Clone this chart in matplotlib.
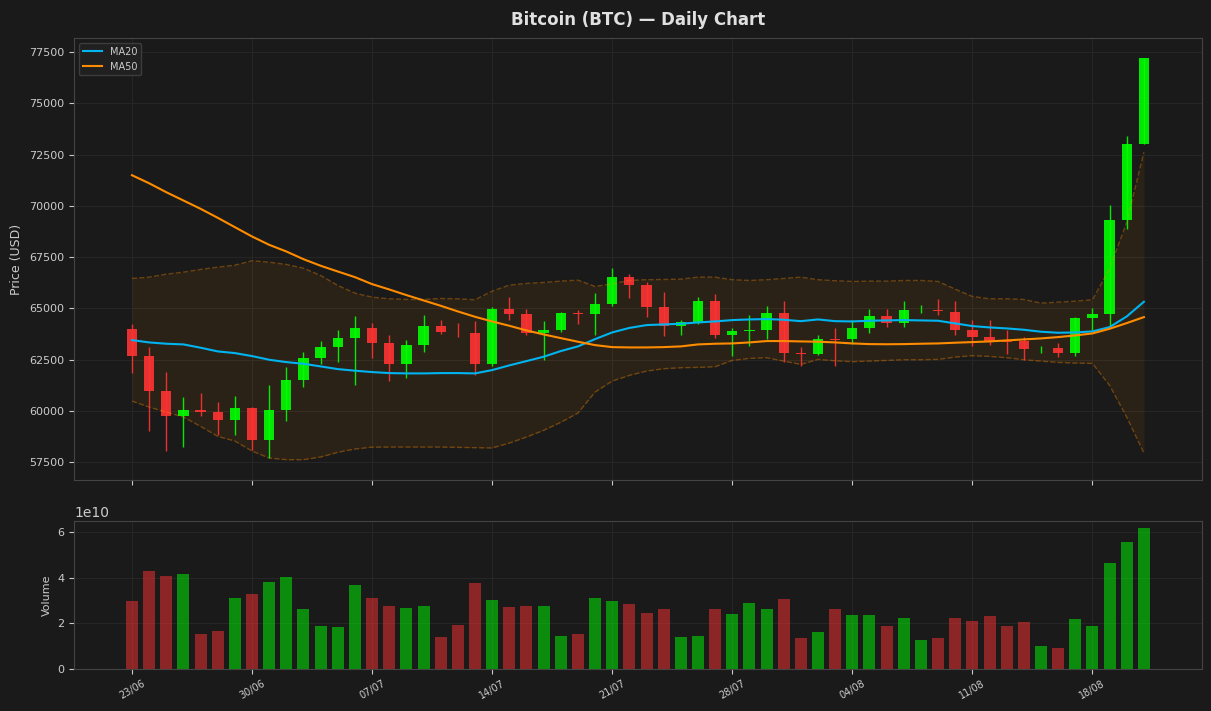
import matplotlib
matplotlib.use("Agg")
import matplotlib.pyplot as plt
import numpy as np

# daily candles, 23/06 .. 21/08
opens = [63980, 62660, 61000, 59740, 60030, 59935, 59545, 60130, 58570, 60030,
         61490, 62565, 63100, 63540, 64030, 63295, 62290, 63200, 64120, 63850,
         63780, 62290, 64950, 64710, 63780, 63930, 64800, 64710, 65240, 66510,
         66120, 65050, 64120, 64320, 65340, 63730, 63880, 63930, 64760, 62810,
         62790, 63490, 63490, 64070, 64610, 64270, 64900, 64910, 64850, 63930,
         63590, 63390, 63390, 63000, 63050, 62810, 64510, 64710, 69290, 73030]
highs = [64220, 63100, 61880, 60670, 60860, 60420, 60720, 60180, 61250, 62130,
         62900, 63390, 63930, 64610, 64270, 63730, 63440, 64660, 64460, 64270,
         64370, 65050, 65540, 64950, 64370, 64850, 64900, 65730, 66950, 66700,
         66310, 65780, 64420, 65540, 65680, 64030, 64660, 65100, 65340, 63100,
         63730, 64030, 64460, 64950, 64950, 65340, 65150, 65440, 65340, 64460,
         64420, 63930, 63590, 63150, 63340, 64560, 65000, 70020, 73380, 77220]
lows = [61850, 59030, 58050, 58250, 59740, 58810, 58810, 58080, 57710, 59500,
        61150, 62270, 62370, 61250, 62565, 61460, 61610, 62870, 63750, 63600,
        61750, 62190, 64420, 63690, 62480, 63830, 64220, 63690, 65110, 65490,
        64560, 63640, 63730, 64220, 63540, 62660, 63150, 63490, 62370, 62180,
        62710, 62180, 63250, 63780, 64080, 64080, 64760, 64660, 63730, 63150,
        63200, 62760, 62470, 62810, 62610, 62660, 63930, 64120, 68850, 72990]
closes = [62660, 61000, 59740, 60030, 59935, 59545, 60130, 58570, 60030, 61490,
          62565, 63100, 63540, 64030, 63295, 62290, 63200, 64120, 63850, 63845,
          62290, 64950, 64710, 63780, 63930, 64800, 64710, 65240, 66510, 66120,
          65050, 64120, 64320, 65340, 63730, 63880, 63930, 64760, 62810, 62790,
          63490, 63480, 64070, 64610, 64270, 64900, 64910, 64890, 63930, 63590,
          63390, 63380, 63000, 63020, 62810, 64510, 64710, 69290, 73030, 77220]
volumes = [2.99, 4.31, 4.09, 4.18, 1.55, 1.68, 3.12, 3.30, 3.82, 4.04,
           2.64, 1.90, 1.85, 3.69, 3.12, 2.77, 2.69, 2.77, 1.42, 1.94,
           3.78, 3.04, 2.73, 2.77, 2.77, 1.46, 1.55, 3.12, 2.99, 2.86,
           2.47, 2.64, 1.42, 1.46, 2.64, 2.42, 2.91, 2.64, 3.08, 1.37,
           1.64, 2.64, 2.38, 2.38, 1.90, 2.25, 1.28, 1.37, 2.25, 2.12,
           2.34, 1.90, 2.07, 1.02, 0.93, 2.20, 1.90, 4.66, 5.58, 6.19]  # x1e10

# indicator lines (history before 23/06 not shown)
ma20 = [63457, 63344, 63280, 63247, 63086, 62906, 62824, 62678, 62500, 62385,
        62303, 62175, 62044, 61966, 61900, 61850, 61834, 61834, 61850, 61850,
        61834, 61996, 62224, 62434, 62646, 62922, 63150, 63506, 63831, 64050,
        64188, 64220, 64254, 64318, 64367, 64432, 64464, 64481, 64448, 64380,
        64464, 64380, 64367, 64400, 64416, 64432, 64416, 64400, 64270, 64140,
        64075, 64026, 63962, 63865, 63815, 63831, 63880, 64090, 64610, 65325]
ma50 = [71492, 71100, 70664, 70260, 69855, 69417, 68960, 68506, 68100, 67776,
        67400, 67080, 66800, 66525, 66185, 65925, 65650, 65390, 65130, 64854,
        64594, 64367, 64155, 63929, 63734, 63554, 63378, 63213, 63115, 63100,
        63100, 63115, 63150, 63247, 63280, 63295, 63344, 63410, 63410, 63393,
        63378, 63344, 63295, 63262, 63255, 63262, 63280, 63295, 63330, 63360,
        63393, 63442, 63490, 63539, 63604, 63685, 63782, 64010, 64286, 64578]
bb_upper = [66461, 66525, 66670, 66768, 66900, 67011, 67108, 67323, 67255, 67143,
            66963, 66607, 66120, 65745, 65550, 65470, 65438, 65438, 65487, 65470,
            65422, 65843, 66135, 66218, 66266, 66330, 66380, 66071, 66200, 66364,
            66400, 66412, 66427, 66525, 66525, 66400, 66364, 66400, 66461, 66525,
            66400, 66350, 66315, 66330, 66330, 66364, 66364, 66315, 65940, 65584,
            65470, 65470, 65438, 65258, 65307, 65356, 65422, 66933, 69203, 72612]
bb_lower = [60486, 60194, 59950, 59706, 59253, 58766, 58538, 58050, 57710, 57630,
            57630, 57760, 57990, 58150, 58240, 58245, 58245, 58245, 58245, 58230,
            58215, 58200, 58440, 58732, 59060, 59450, 59900, 60924, 61460, 61737,
            61947, 62063, 62110, 62127, 62160, 62467, 62565, 62597, 62434, 62273,
            62516, 62450, 62404, 62434, 62467, 62500, 62500, 62516, 62630, 62697,
            62662, 62597, 62500, 62434, 62370, 62337, 62320, 61250, 59706, 57955]

tick_days = [0, 7, 14, 21, 28, 35, 42, 49, 56]
tick_labels = ["23/06", "30/06", "07/07", "14/07", "21/07", "28/07", "04/08", "11/08", "18/08"]

BG = "#1a1a1a"
TXT = "#cccccc"
UP = "#00ff00"
DOWN = "#ff3333"

plt.rcParams['font.family'] = 'DejaVu Sans'

fig = plt.figure(figsize=(12.11, 7.11), dpi=100, facecolor=BG)
ax = fig.add_axes([0.0611, 0.3249, 0.9315, 0.6217])
axv = fig.add_axes([0.0611, 0.0591, 0.9315, 0.2081], sharex=ax)

days = np.arange(len(opens))
o = np.array(opens)
c = np.array(closes)
up = c >= o

for a in (ax, axv):
    a.set_facecolor(BG)
    for s in a.spines.values():
        s.set_color("#444444")
    a.tick_params(colors=TXT, labelsize=8)
    a.grid(True, color="#262626", linewidth=0.8)
    a.set_axisbelow(True)

# bollinger band
ax.fill_between(days, bb_lower, bb_upper, color="darkorange", alpha=0.08, linewidth=0)
ax.plot(days, bb_upper, color="darkorange", alpha=0.35, linestyle="--", linewidth=1)
ax.plot(days, bb_lower, color="darkorange", alpha=0.35, linestyle="--", linewidth=1)

# candles
cols = [UP if u else DOWN for u in up]
ax.vlines(days, lows, highs, colors=cols, linewidth=1, alpha=0.9)
ax.bar(days, np.abs(c - o), bottom=np.minimum(o, c), width=0.6, color=cols, alpha=0.9)

ax.plot(days, ma20, color="#00b4f0", linewidth=1.5, label="MA20")
ax.plot(days, ma50, color="darkorange", linewidth=1.5, label="MA50")

ax.set_ylim(56640, 78180)
ax.set_ylabel("Price (USD)", color=TXT, fontsize=9)
ax.set_title("Bitcoin (BTC) \u2014 Daily Chart", color="#e0e0e0", fontsize=12,
             fontweight="bold", pad=9)
leg = ax.legend(loc="upper left", fontsize=7, facecolor="#222222", edgecolor="#444444")
for t in leg.get_texts():
    t.set_color(TXT)
ax.tick_params(axis="x", labelbottom=False)

# volume
vol = np.array(volumes) * 1e10
axv.bar(days, vol, width=0.7, color=cols, alpha=0.5)
axv.set_ylim(0, 6.49e10)
axv.set_ylabel("Volume", color=TXT, fontsize=8)
axv.yaxis.get_offset_text().set_color(TXT)
axv.yaxis.get_offset_text().set_fontsize(10)

axv.set_xticks(tick_days)
axv.set_xticklabels(tick_labels, rotation=30, fontsize=7)
axv.set_xlim(-3.38, 62.39)

fig.savefig("out.png", dpi=100, facecolor=BG)
